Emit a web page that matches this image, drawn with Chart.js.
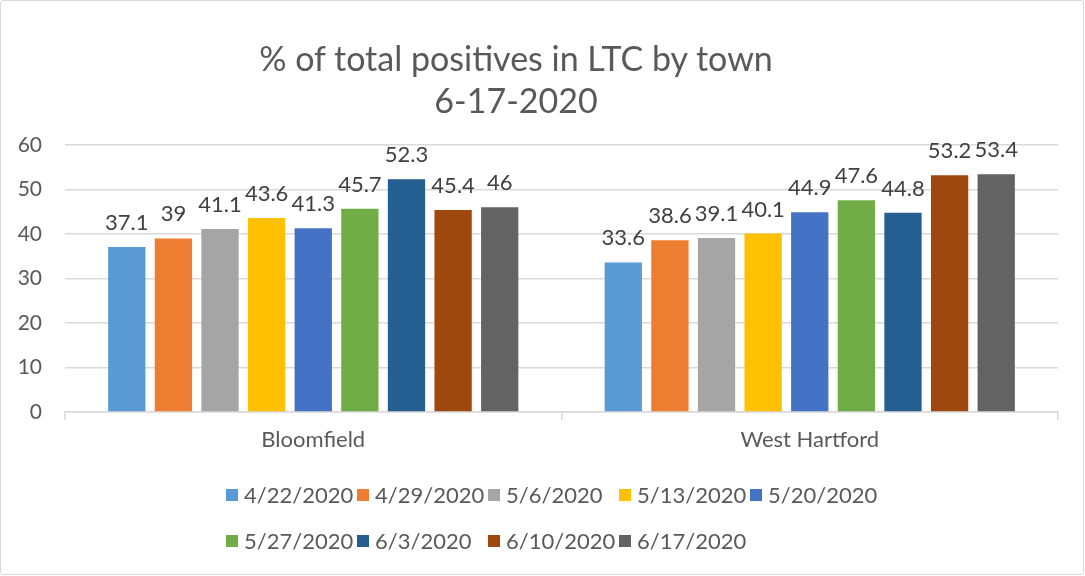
<!DOCTYPE html>
<html>
<head>
<meta charset="utf-8">
<script src="https://cdn.jsdelivr.net/npm/chart.js@4"></script>
<style>
  html, body { margin: 0; padding: 0; background: #fff; }
  #wrap { position: relative; width: 1085px; height: 576px; overflow: hidden; font-family: Lato, "Open Sans", sans-serif; }
  #frame { position: absolute; left: 0; top: 0; width: 1082px; height: 573px; border: 1px solid #d9d9d9; border-radius: 3px; box-sizing: content-box; pointer-events: none; }
  #title { position: absolute; left: 166px; width: 700px; top: 37px; text-align: center; color: #595959; font-size: 34px; line-height: 42px; }
  #legend { position: absolute; left: 226px; top: 482px; display: grid; grid-template-columns: repeat(5, 131px); row-gap: 20px; color: #595959; font-size: 22px; line-height: 26px; }
  .li { display: flex; align-items: center; white-space: nowrap; }
  .sw { width: 12px; height: 12px; margin-right: 6px; flex: none; }
  canvas { position: absolute; left: 0; top: 0; }
</style>
</head>
<body>
<div id="wrap">
  <canvas id="c" width="1085" height="576"></canvas>
  <div id="title">% of total positives in LTC by town<br>6-17-2020</div>
  <div id="legend"></div>
  <div id="frame"></div>
</div>
<script>
const categories = ["Bloomfield", "West Hartford"];
const dates = ["4/22/2020", "4/29/2020", "5/6/2020", "5/13/2020", "5/20/2020", "5/27/2020", "6/3/2020", "6/10/2020", "6/17/2020"];
const bloomfield = [37.1, 39, 41.1, 43.6, 41.3, 45.7, 52.3, 45.4, 46];
const westHartford = [33.6, 38.6, 39.1, 40.1, 44.9, 47.6, 44.8, 53.2, 53.4];
const colors = ["#5B9BD5", "#ED7D31", "#A5A5A5", "#FFC000", "#4472C4", "#70AD47", "#255E91", "#9E480E", "#636363"];
const yTicks = [0, 10, 20, 30, 40, 50, 60];

const datasets = dates.map((d, i) => ({
  label: d,
  data: [bloomfield[i], westHartford[i]],
  backgroundColor: colors[i],
  borderWidth: 0,
  categoryPercentage: 0.845,
  barPercentage: 0.8
}));

const valueLabels = {
  id: 'valueLabels',
  afterDatasetsDraw(chart) {
    const ctx = chart.ctx;
    ctx.save();
    ctx.font = '22px Lato, "Open Sans", sans-serif';
    ctx.fillStyle = '#404040';
    ctx.textAlign = 'center';
    ctx.textBaseline = 'alphabetic';
    chart.data.datasets.forEach((ds, di) => {
      const meta = chart.getDatasetMeta(di);
      meta.data.forEach((bar, j) => {
        ctx.fillText(String(ds.data[j]), bar.x, bar.y - 17);
      });
    });
    ctx.restore();
  }
};

const chart = new Chart(document.getElementById('c'), {
  type: 'bar',
  data: { labels: categories, datasets },
  options: {
    responsive: false,
    animation: false,
    devicePixelRatio: 1,
    layout: { padding: { left: 0, right: 27, top: 145, bottom: 114 } },
    plugins: { legend: { display: false }, title: { display: false }, tooltip: { enabled: false } },
    scales: {
      x: {
        grid: { offset: true, drawOnChartArea: false, drawTicks: true, tickLength: 8, color: '#d9d9d9', lineWidth: 1.5 },
        border: { display: true, color: '#d9d9d9', width: 1.5 },
        ticks: { color: '#595959', font: { family: 'Lato, "Open Sans", sans-serif', size: 22 }, padding: 7 },
        afterFit(s) { s.height = 50; }
      },
      y: {
        min: 0, max: 60,
        afterBuildTicks(s) { s.ticks = yTicks.map(v => ({ value: v })); },
        grid: { color: '#d9d9d9', lineWidth: 1.5, drawTicks: false },
        border: { display: false },
        ticks: { color: '#595959', font: { family: 'Lato, "Open Sans", sans-serif', size: 21 }, padding: 23 },
        afterFit(s) { s.width = 65; }
      }
    }
  },
  plugins: [valueLabels]
});

const legend = document.getElementById('legend');
dates.forEach((d, i) => {
  const el = document.createElement('div');
  el.className = 'li';
  el.innerHTML = '<span class="sw" style="background:' + colors[i] + '"></span><span>' + d + '</span>';
  legend.appendChild(el);
});
</script>
</body>
</html>
